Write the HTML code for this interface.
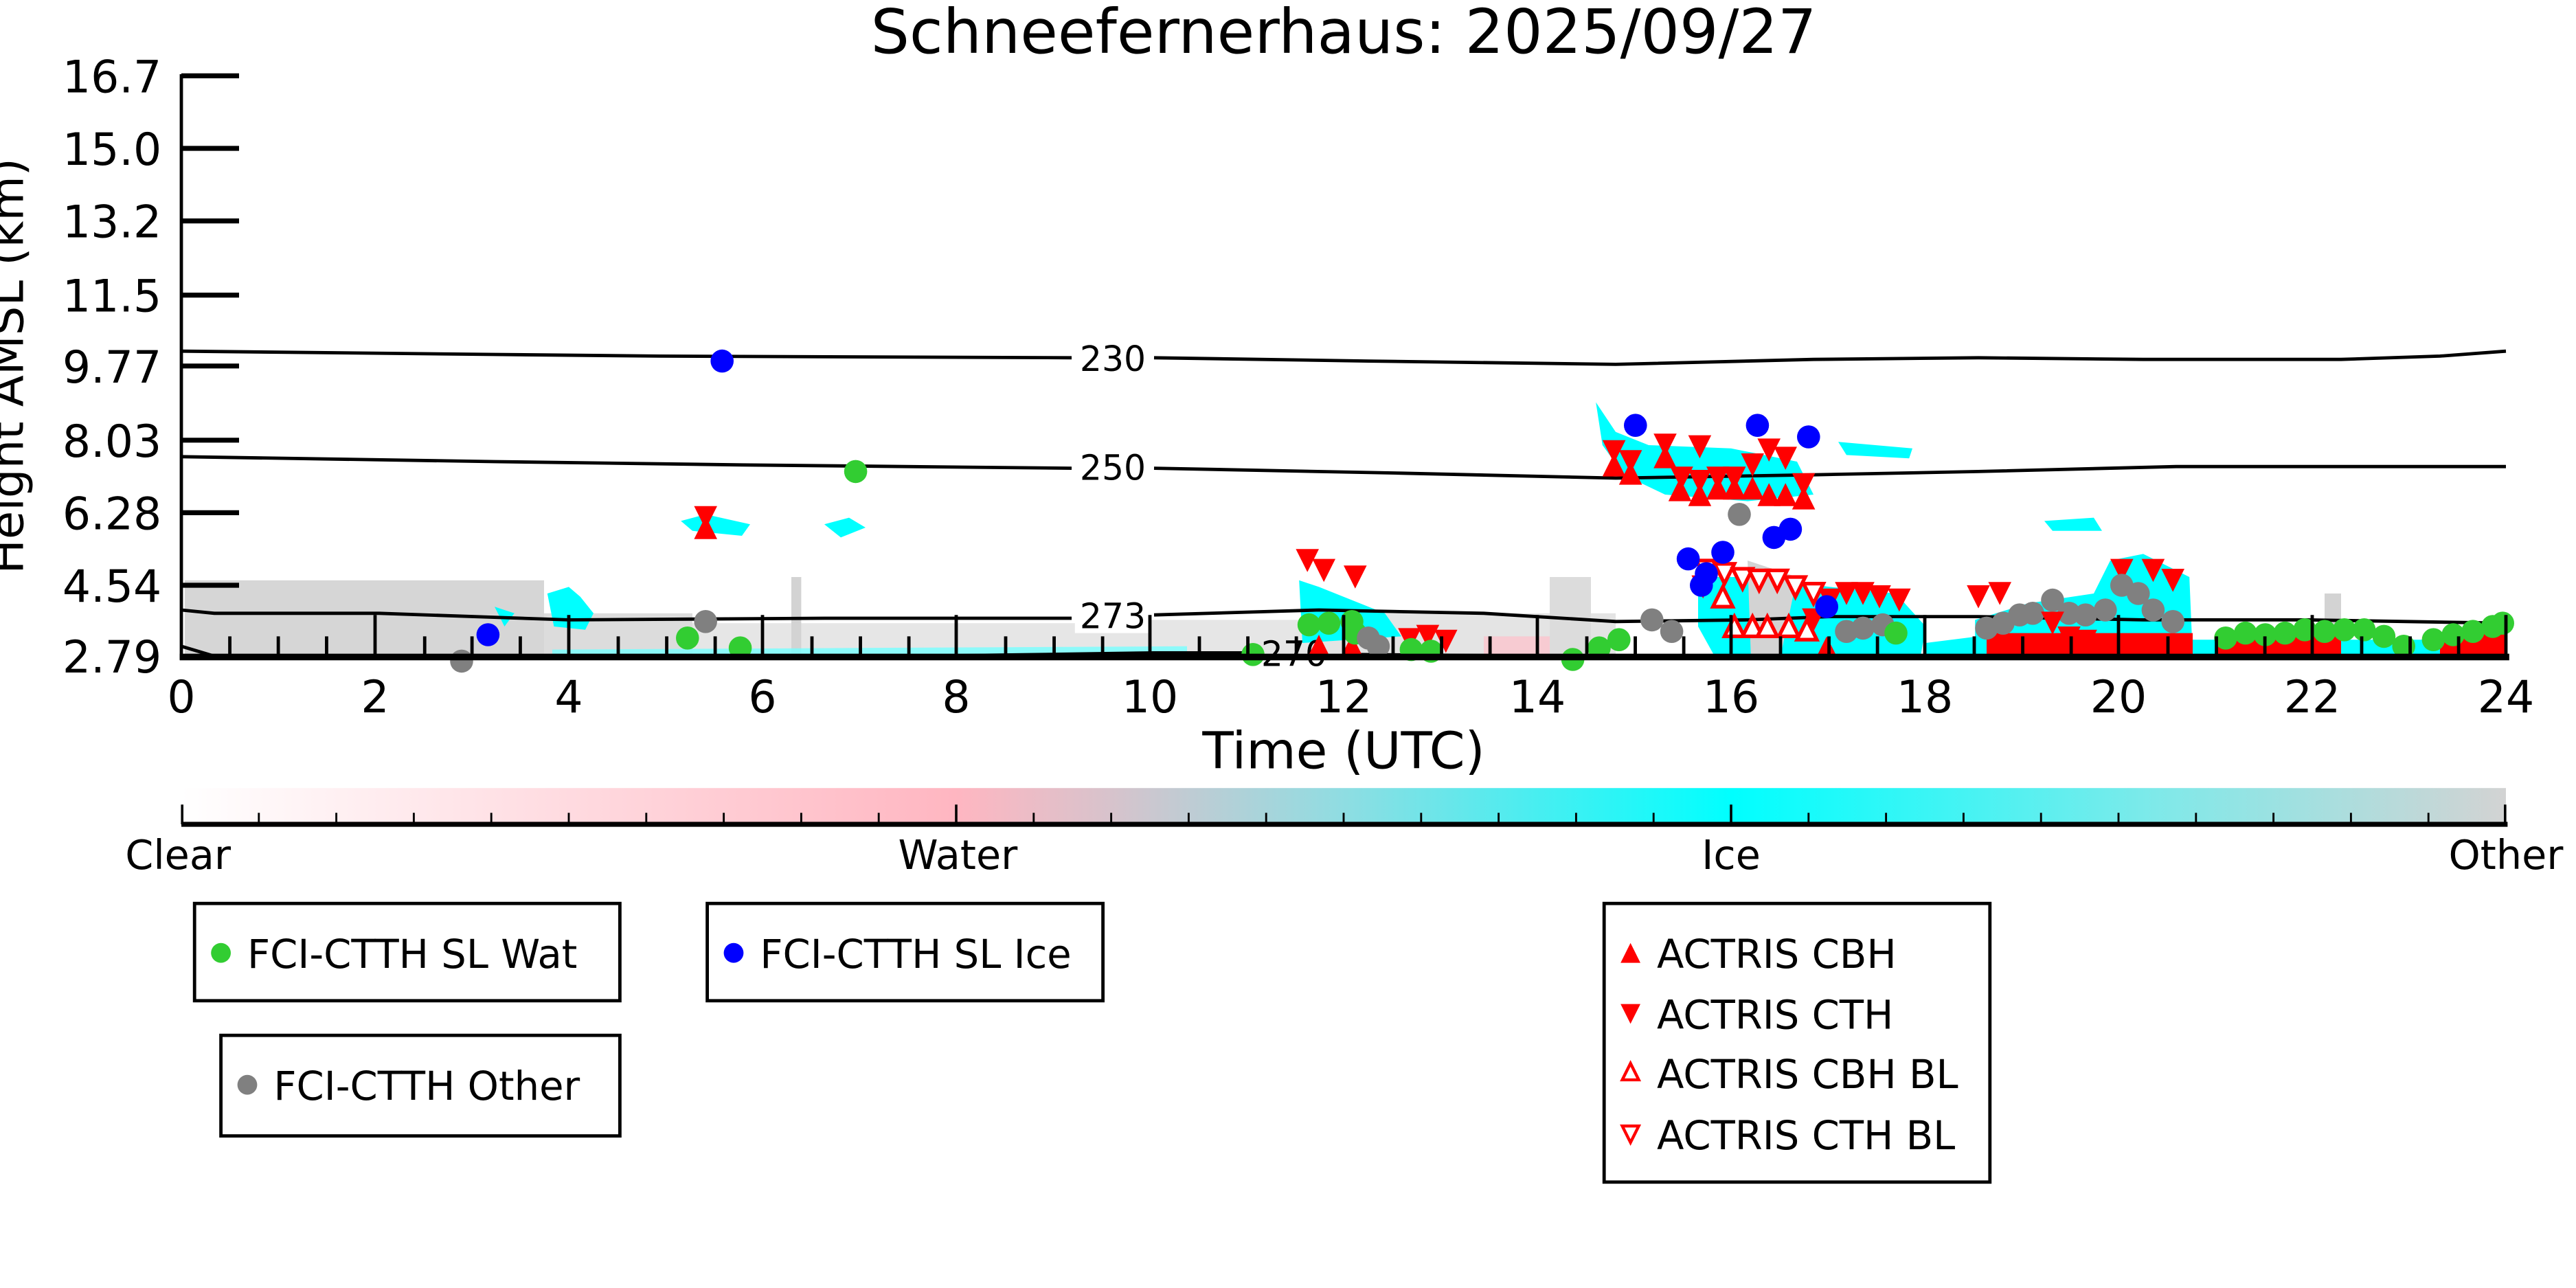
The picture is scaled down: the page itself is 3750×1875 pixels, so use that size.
<!DOCTYPE html>
<html><head><meta charset="utf-8"><style>
html,body{margin:0;padding:0;background:#fff;}
svg{display:block;}
text{font-family:"DejaVu Sans","Liberation Sans",sans-serif;}
</style></head><body>
<svg width="3750" height="1875" viewBox="0 0 1562.5 781.25" xmlns="http://www.w3.org/2000/svg">
<defs>
<linearGradient id="cb" x1="0" x2="1" y1="0" y2="0">
<stop offset="0" stop-color="#ffffff"/>
<stop offset="0.333" stop-color="#ffb6c1"/>
<stop offset="0.4" stop-color="#d7c3cc"/>
<stop offset="0.5" stop-color="#8fdde2"/>
<stop offset="0.667" stop-color="#00ffff"/>
<stop offset="0.85" stop-color="#7fe9e9"/>
<stop offset="1" stop-color="#d3d3d3"/>
</linearGradient>
<circle id="g" r="7" fill="#32cd32"/>
<circle id="b" r="7" fill="#0000ff"/>
<circle id="k" r="7" fill="#808080"/>
<polygon id="d" points="-7,-7 7,-7 0,7" fill="#ff0000"/>
<polygon id="u" points="-7,7 7,7 0,-7" fill="#ff0000"/>
<polygon id="dh" points="-6,-6 6,-6 0,6" fill="#fff" stroke="#ff0000" stroke-width="2.2"/>
<polygon id="uh" points="-6,6 6,6 0,-6" fill="#fff" stroke="#ff0000" stroke-width="2.2"/>
</defs>

<text x="815" y="32" font-size="37" text-anchor="middle">Schneefernerhaus: 2025/09/27</text>

<g>
<rect x="112" y="352" width="218" height="46" fill="#d6d6d6"/>
<rect x="330" y="372" width="90" height="26" fill="#dcdcdc"/>
<rect x="420" y="378" width="300" height="20" fill="#e6e6e6"/>
<rect x="480" y="350" width="6" height="48" fill="#d3d3d3"/>
<rect x="680" y="376" width="120" height="22" fill="#e6e6e6"/>
<rect x="800" y="372" width="180" height="26" fill="#e4e4e4"/>
<rect x="900" y="386" width="40" height="12" fill="#ffc0cb" opacity="0.7"/>
<rect x="940" y="350" width="25" height="48" fill="#dcdcdc"/>
<rect x="1050" y="350" width="30" height="48" fill="#d3d3d3"/>
<rect x="1410" y="360" width="10" height="38" fill="#d3d3d3"/>
<path d="M332,360 L345,356 L352,362 L360,372 L355,382 L336,380 Z" fill="#00ffff"/>
<path d="M300,368 L312,372 L306,380 Z" fill="#00ffff"/>
<path d="M413,316 L428,312 L455,318 L450,325 L420,322 Z" fill="#00ffff"/>
<path d="M500,318 L515,314 L525,320 L510,326 Z" fill="#00ffff"/>
<path d="M335,394 L720,392 L720,398 L335,398 Z" fill="#7ff" opacity="0.8"/>
<path d="M788,352 L800,356 L840,372 L850,386 L790,390 Z" fill="#00ffff"/>
<path d="M968,244 L980,262 L1000,270 L1050,272 L1090,280 L1100,300 L1060,304 L1010,300 L985,288 L972,270 Z" fill="#00ffff"/>
<path d="M1115,268 L1160,272 L1158,278 L1120,276 Z" fill="#00ffff"/>
<path d="M1030,350 L1060,350 L1110,356 L1150,360 L1168,380 L1165,398 L1040,398 L1030,380 Z" fill="#00ffff"/>
<path d="M1060,340 L1090,350 L1080,398 L1062,398 Z" fill="#d3d3d3"/>
<path d="M1168,390 L1200,386 L1200,398 L1168,398 Z" fill="#00ffff"/>
<path d="M1198,376 L1230,366 L1270,360 L1280,340 L1300,336 L1328,350 L1330,398 L1198,398 Z" fill="#00ffff"/>
<path d="M1240,316 L1270,314 L1275,322 L1245,322 Z" fill="#00ffff"/>
<path d="M1330,388 L1520,388 L1520,398 L1330,398 Z" fill="#00ffff"/>
<path d="M1205,384 L1330,384 L1330,398 L1205,398 Z" fill="#ff0000"/>
<path d="M1345,386 L1420,386 L1420,398 L1345,398 Z" fill="#ff0000"/>
<path d="M1480,385 L1520,382 L1520,398 L1480,398 Z" fill="#ff0000"/>
</g>

<g fill="none" stroke="#000" stroke-width="2">
<polyline points="110,213 300,215 400,216 650,217"/>
<polyline points="700,217 830,219 980,221 1100,218 1200,217 1300,218 1420,218 1480,216 1520,213"/>
<polyline points="110,277 300,280 450,282 650,284"/>
<polyline points="700,284 850,287 980,290 1100,288 1200,286 1320,283 1520,283"/>
<polyline points="110,370 130,372 230,372 345,376 500,375 650,375"/>
<polyline points="700,373 800,370 900,372 980,377 1060,376 1110,374 1200,374 1300,376 1400,376 1520,378"/>
<polyline points="110,392 130,398"/>
<polyline points="560,398 700,396 760,396"/>
<polyline points="820,397 950,398"/>
</g>
<g font-size="21" text-anchor="middle">
<rect x="652" y="205" width="46" height="22" fill="#fff"/><text x="675" y="225">230</text>
<rect x="652" y="272" width="46" height="22" fill="#fff"/><text x="675" y="291">250</text>
<rect x="652" y="362" width="46" height="22" fill="#fff"/><text x="675" y="381">273</text>
<text x="785" y="404">270</text>
</g>

<g>
<use href="#u" x="428" y="320"/><use href="#d" x="428" y="314"/>
<use href="#b" x="296" y="385"/><use href="#b" x="438" y="219"/>
<use href="#k" x="280" y="401"/><use href="#k" x="428" y="377"/>
<use href="#g" x="417" y="387"/><use href="#g" x="449" y="393"/><use href="#g" x="519" y="286"/>
<use href="#g" x="760" y="397"/>
<use href="#d" x="793" y="340"/><use href="#d" x="803" y="346"/><use href="#d" x="822" y="350"/>
<use href="#u" x="800" y="392"/><use href="#u" x="820" y="392"/>
<use href="#g" x="794" y="379"/><use href="#g" x="806" y="378"/><use href="#g" x="820" y="377"/><use href="#g" x="822" y="384"/>
<use href="#k" x="830" y="387"/><use href="#k" x="836" y="392"/>
<use href="#d" x="855" y="388"/><use href="#d" x="866" y="386"/><use href="#d" x="877" y="389"/>
<use href="#g" x="856" y="394"/><use href="#g" x="868" y="395"/>
<use href="#g" x="954" y="400"/><use href="#g" x="970" y="393"/><use href="#g" x="982" y="388"/>
<use href="#k" x="1002" y="376"/><use href="#k" x="1014" y="383"/>
<use href="#u" x="979" y="282"/><use href="#d" x="979" y="274"/>
<use href="#u" x="989" y="287"/><use href="#d" x="989" y="280"/>
<use href="#u" x="1010" y="277"/><use href="#d" x="1010" y="270"/>
<use href="#d" x="1031" y="271"/>
<use href="#u" x="1019" y="297"/><use href="#d" x="1020" y="290"/>
<use href="#u" x="1031" y="300"/><use href="#d" x="1031" y="292"/>
<use href="#u" x="1042" y="296"/><use href="#d" x="1042" y="290"/>
<use href="#u" x="1052" y="296"/><use href="#d" x="1052" y="290"/>
<use href="#d" x="1063" y="282"/><use href="#u" x="1063" y="296"/>
<use href="#d" x="1073" y="273"/><use href="#u" x="1073" y="300"/>
<use href="#d" x="1083" y="278"/><use href="#u" x="1083" y="300"/>
<use href="#d" x="1094" y="294"/><use href="#u" x="1094" y="302"/>
<use href="#b" x="992" y="258"/><use href="#b" x="1066" y="258"/><use href="#b" x="1097" y="265"/>
<use href="#k" x="1055" y="312"/>
<use href="#b" x="1076" y="326"/><use href="#b" x="1086" y="321"/>
<use href="#dh" x="1035" y="346"/><use href="#dh" x="1046" y="348"/><use href="#dh" x="1057" y="351"/>
<use href="#dh" x="1067" y="352"/><use href="#dh" x="1078" y="352"/><use href="#dh" x="1089" y="356"/><use href="#dh" x="1100" y="360"/>
<use href="#d" x="1033" y="356"/>
<use href="#uh" x="1045" y="362"/><use href="#uh" x="1052" y="380"/><use href="#uh" x="1063" y="380"/><use href="#uh" x="1072" y="380"/>
<use href="#uh" x="1085" y="380"/><use href="#uh" x="1096" y="382"/><use href="#d" x="1100" y="376"/>
<use href="#b" x="1024" y="339"/><use href="#b" x="1035" y="348"/><use href="#b" x="1045" y="335"/><use href="#b" x="1032" y="355"/>
<use href="#d" x="1110" y="364"/><use href="#d" x="1120" y="360"/><use href="#d" x="1130" y="360"/><use href="#d" x="1140" y="362"/><use href="#d" x="1152" y="364"/>
<use href="#b" x="1108" y="368"/>
<use href="#u" x="1108" y="393"/>
<use href="#k" x="1120" y="383"/><use href="#k" x="1130" y="381"/><use href="#k" x="1142" y="379"/>
<use href="#g" x="1150" y="384"/>
<use href="#d" x="1200" y="362"/><use href="#d" x="1213" y="360"/>
<use href="#k" x="1205" y="381"/><use href="#k" x="1215" y="378"/><use href="#k" x="1225" y="373"/><use href="#k" x="1233" y="372"/>
<use href="#k" x="1245" y="364"/><use href="#k" x="1255" y="372"/><use href="#k" x="1265" y="373"/><use href="#k" x="1277" y="370"/>
<use href="#d" x="1245" y="378"/><use href="#d" x="1255" y="387"/><use href="#d" x="1265" y="389"/>
<use href="#d" x="1287" y="346"/><use href="#d" x="1306" y="346"/><use href="#d" x="1318" y="352"/>
<use href="#k" x="1287" y="355"/><use href="#k" x="1297" y="360"/><use href="#k" x="1306" y="370"/><use href="#k" x="1318" y="377"/>
<use href="#g" x="1350" y="387"/><use href="#g" x="1362" y="384"/><use href="#g" x="1374" y="385"/><use href="#g" x="1386" y="384"/>
<use href="#g" x="1398" y="382"/><use href="#g" x="1410" y="383"/><use href="#g" x="1422" y="382"/><use href="#g" x="1434" y="382"/>
<use href="#g" x="1446" y="386"/><use href="#g" x="1458" y="392"/><use href="#g" x="1476" y="388"/><use href="#g" x="1488" y="385"/>
<use href="#g" x="1500" y="383"/><use href="#g" x="1512" y="380"/><use href="#g" x="1518" y="378"/>
</g>

<g stroke="#000">
<line x1="110" y1="45" x2="110" y2="400" stroke-width="2"/>
<line x1="109" y1="398.5" x2="1522" y2="398.5" stroke-width="4"/>
<g stroke-width="3">
<line x1="110" y1="46" x2="145" y2="46"/><line x1="110" y1="90" x2="145" y2="90"/>
<line x1="110" y1="134" x2="145" y2="134"/><line x1="110" y1="179" x2="145" y2="179"/>
<line x1="110" y1="222" x2="145" y2="222"/><line x1="110" y1="267" x2="145" y2="267"/>
<line x1="110" y1="311" x2="145" y2="311"/><line x1="110" y1="355" x2="145" y2="355"/>
</g>
<g stroke-width="2">
<path d="M139.4,398V386M168.8,398V386M198.1,398V386M257.6,398V386M286.3,398V386M315.6,398V386M375,398V386M404.4,398V386M433.8,398V386M492.5,398V386M521.9,398V386M551.3,398V386M610,398V386M639.4,398V386M668.8,398V386M727.5,398V386M756.9,398V386M786.3,398V386M845,398V386M874.4,398V386M903.8,398V386M962.5,398V386M991.9,398V386M1021.3,398V386M1080,398V386M1109.4,398V386M1138.8,398V386M1197.5,398V386M1226.9,398V386M1256.3,398V386M1315,398V386M1344.4,398V386M1373.8,398V386M1432.5,398V386M1461.9,398V386M1491.3,398V386"/>
<path d="M227.5,398V373M345,398V373M462.5,398V373M580,398V373M697.5,398V373M815,398V373M932.5,398V373M1050,398V373M1167.5,398V373M1285,398V373M1402.5,398V373M1520,398V373"/>
</g>
</g>
<g font-size="27" text-anchor="end">
<text x="98" y="56">16.7</text><text x="98" y="100">15.0</text><text x="98" y="144">13.2</text><text x="98" y="189">11.5</text>
<text x="98" y="232">9.77</text><text x="98" y="277">8.03</text><text x="98" y="321">6.28</text><text x="98" y="365">4.54</text><text x="98" y="408">2.79</text>
</g>
<g font-size="27" text-anchor="middle">
<text x="110" y="432">0</text><text x="227.5" y="432">2</text><text x="345" y="432">4</text><text x="462.5" y="432">6</text>
<text x="580" y="432">8</text><text x="697.5" y="432">10</text><text x="815" y="432">12</text><text x="932.5" y="432">14</text>
<text x="1050" y="432">16</text><text x="1167.5" y="432">18</text><text x="1285" y="432">20</text><text x="1402.5" y="432">22</text><text x="1520" y="432">24</text>
</g>
<text x="815" y="466" font-size="31" text-anchor="middle">Time (UTC)</text>
<text transform="translate(14,222) rotate(-90)" font-size="28" text-anchor="middle">Height AMSL (km)</text>

<rect x="110" y="478" width="1410" height="22" fill="url(#cb)"/>
<line x1="110" y1="500" x2="1521" y2="500" stroke="#000" stroke-width="3"/>
<g stroke="#000" stroke-width="1.2">
<path d="M157,500V493M204,500V493M251,500V493M298,500V493M345,500V493M392,500V493M439,500V493M486,500V493M533,500V493M627,500V493M674,500V493M721,500V493M768,500V493M815,500V493M862,500V493M909,500V493M956,500V493M1003,500V493M1097,500V493M1144,500V493M1191,500V493M1238,500V493M1285,500V493M1332,500V493M1379,500V493M1426,500V493M1473,500V493"/>
<path d="M110.5,500V488M580,500V488M1050,500V488M1519.5,500V488" stroke-width="1.5"/>
</g>
<g font-size="24.5" text-anchor="middle">
<text x="108" y="527">Clear</text><text x="581" y="527">Water</text><text x="1050" y="527">Ice</text><text x="1520" y="527">Other</text>
</g>

<g fill="#fff" stroke="#000" stroke-width="2">
<rect x="118" y="548" width="258" height="59"/>
<rect x="429" y="548" width="240" height="59"/>
<rect x="134" y="628" width="242" height="61"/>
<rect x="973" y="548" width="234" height="169"/>
</g>
<g font-size="24">
<circle cx="134" cy="578" r="6" fill="#32cd32"/><text x="150" y="587">FCI-CTTH SL Wat</text>
<circle cx="445" cy="578" r="6" fill="#0000ff"/><text x="461" y="587">FCI-CTTH SL Ice</text>
<circle cx="150" cy="658" r="6" fill="#808080"/><text x="166" y="667">FCI-CTTH Other</text>
<polygon points="983,584 995,584 989,572" fill="#ff0000"/><text x="1005" y="587">ACTRIS CBH</text>
<polygon points="983,609 995,609 989,621" fill="#ff0000"/><text x="1005" y="624">ACTRIS CTH</text>
<polygon points="984,655 994,655 989,645" fill="none" stroke="#ff0000" stroke-width="1.8"/><text x="1005" y="660">ACTRIS CBH BL</text>
<polygon points="984,683 994,683 989,693" fill="none" stroke="#ff0000" stroke-width="1.8"/><text x="1005" y="697">ACTRIS CTH BL</text>
</g>
</svg>
</body></html>
